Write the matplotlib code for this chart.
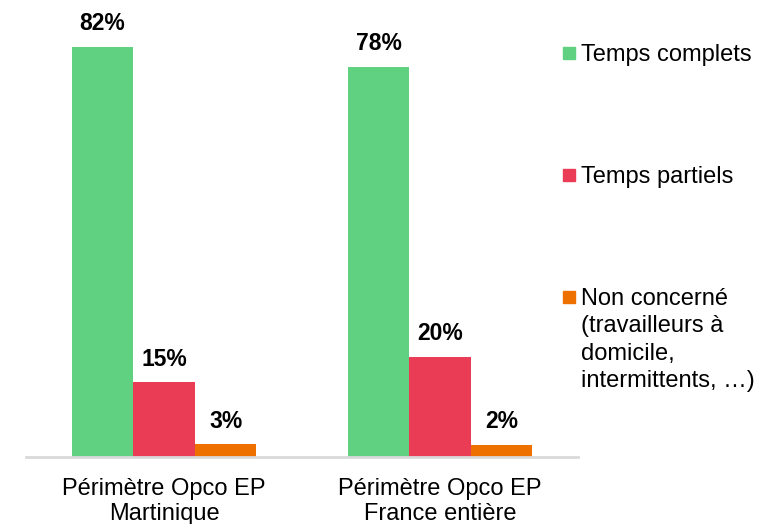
import matplotlib.pyplot as plt
import numpy as np
from matplotlib.patches import Rectangle

categories = ['Périmètre Opco EP\nMartinique', 'Périmètre Opco EP\nFrance entière']
series_names = ['Temps complets', 'Temps partiels',
                'Non concerné\n(travailleurs à\ndomicile,\nintermittents, …)']
temps_complets = [82, 78]
temps_partiels = [15, 20]
non_concerne = [2.6, 2.4]
colors = ['#60D081', '#EB3C55', '#EE7100']

plt.rcParams['font.family'] = ['Liberation Sans', 'DejaVu Sans']

W, H = 771, 524
fig = plt.figure(figsize=(W / 100, H / 100), dpi=100)
# axes placed in pixel coordinates (from top-left)
left, right, top, bottom = 26, 578, 7, 457
ax = fig.add_axes([left / W, 1 - bottom / H, (right - left) / W, (bottom - top) / H])

x = np.arange(len(categories))
w = 0.223
for i, vals in enumerate([temps_complets, temps_partiels, non_concerne]):
    bars = ax.bar(x + (i - 1) * w, vals, width=w, color=colors[i])
    for b, v in zip(bars, vals):
        ax.text(b.get_x() + b.get_width() / 2, v + 2.3, f'{v:.0f}%',
                ha='center', va='bottom', fontsize=16.5, fontweight='bold')

ax.set_xlim(-0.5, 1.5)
ax.set_ylim(0, 90)
ax.set_yticks([])
ax.set_xticks(x)
ax.set_xticklabels(categories, fontsize=17, linespacing=1.2)
ax.tick_params(axis='x', length=0, pad=15)
for s in ['top', 'right', 'left']:
    ax.spines[s].set_visible(False)
ax.spines['bottom'].set_color('#D9D9D9')
ax.spines['bottom'].set_linewidth(2)

# legend drawn on the right side
legend_y = [53, 175, 297]
for name, c, y in zip(series_names, colors, legend_y):
    fig.add_artist(Rectangle((563 / W, 1 - (y + 6) / H), 12 / W, 12 / H,
                             transform=fig.transFigure, color=c))
    fig.text(581 / W, 1 - (y - 9) / H, name, fontsize=17, va='top', ha='left',
             linespacing=1.32)

fig.savefig('out.png', dpi=100)
